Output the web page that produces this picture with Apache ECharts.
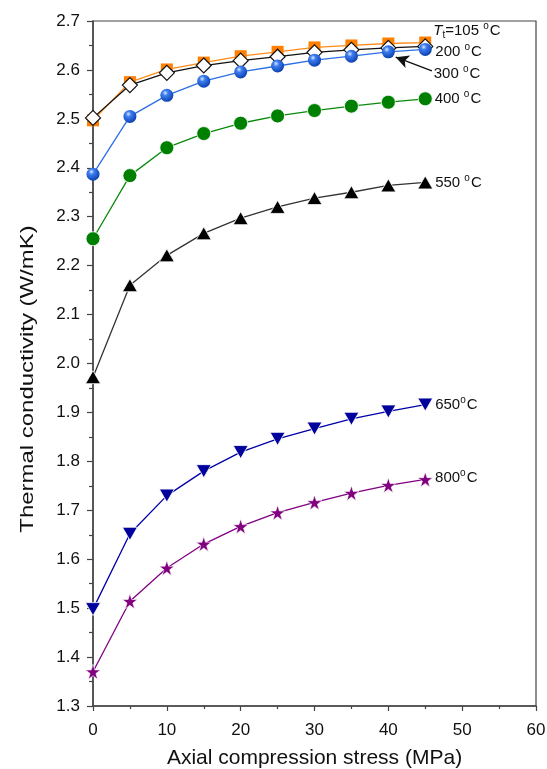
<!DOCTYPE html>
<html lang="en">
<head>
<meta charset="UTF-8">
<script src="https://cdn.jsdelivr.net/npm/echarts@6/dist/echarts.min.js"></script>
<title>Thermal conductivity vs axial stress</title>
<style>
    html, body { margin: 0; padding: 0; background: #fff; }
    #main { width: 547px; height: 769px; }
</style>
</head>
<body>
<div id="main"></div>
<script type="text/javascript">
    // axial compression stress (MPa)
    var stress = [0, 5, 10, 15, 20, 25, 30, 35, 40, 45];
    // thermal conductivity (W/mK) after each treatment temperature
    var t105 = [2.497, 2.575, 2.601, 2.615, 2.628, 2.637, 2.646, 2.650, 2.654, 2.656];
    var t200 = [2.502, 2.569, 2.594, 2.609, 2.619, 2.627, 2.636, 2.641, 2.645, 2.648];
    var t300 = [2.387, 2.505, 2.548, 2.577, 2.596, 2.608, 2.620, 2.628, 2.637, 2.642];
    var t400 = [2.255, 2.384, 2.441, 2.470, 2.491, 2.506, 2.517, 2.526, 2.534, 2.541];
    var t550 = [1.972, 2.160, 2.221, 2.266, 2.297, 2.320, 2.338, 2.350, 2.364, 2.370];
    var t650 = [1.498, 1.652, 1.730, 1.780, 1.819, 1.846, 1.867, 1.887, 1.902, 1.916];
    var t800 = [1.370, 1.514, 1.582, 1.631, 1.667, 1.695, 1.716, 1.735, 1.751, 1.763];
    var labels = ['{i|T}{sub|t}{n|=105 }{sup|o}{n|C}', '{n|200 }{sup|o}{n|C}', '{n|300 }{sup|o}{n|C}',
                  '{n|400 }{sup|o}{n|C}', '{n|550 }{sup|o}{n|C}', '{n|650}{sup|o}{n|C}', '{n|800}{sup|o}{n|C}'];

    var FONT = 'Liberation Sans, Arial, sans-serif';
    var rich = {
        n: { fontSize: 15, fontFamily: FONT, color: '#111' },
        i: { fontSize: 15, fontFamily: FONT, fontStyle: 'italic', color: '#111' },
        sub: { fontSize: 10, fontFamily: FONT, color: '#111', padding: [9, 0, 0, 0] },
        sup: { fontSize: 10, fontFamily: FONT, color: '#111', padding: [0, 1, 9, 0] }
    };

    var sphere = {
        type: 'radial', x: 0.38, y: 0.32, r: 0.7,
        colorStops: [{ offset: 0, color: '#dce8ff' }, { offset: 0.3, color: '#3d7df0' }, { offset: 1, color: '#0b3fae' }]
    };
    var star = 'path://M50,0 L61.8,35.1 L98.9,35.1 L68.9,56.8 L80.3,91.9 L50,70.2 L19.7,91.9 L31.1,56.8 L1.1,35.1 L38.2,35.1 Z';

    function pts(vals, idx, off) {
        return vals.map(function (v, k) {
            var d = { value: [stress[k], v] };
            if (k === vals.length - 1) {
                d.label = { show: true, position: 'right', distance: 2, offset: off,
                            formatter: labels[idx], rich: rich };
            }
            return d;
        });
    }

    function line(name, vals, idx, off, lineColor, symbol, size, item, extra) {
        var s = {
            name: name, type: 'line', data: pts(vals, idx, off),
            symbol: symbol, symbolSize: size, showAllSymbol: true,
            lineStyle: { color: lineColor, width: 1.3 },
            itemStyle: item, z: 2 + idx
        };
        for (var k in extra) s[k] = extra[k];
        return s;
    }

    var chart = echarts.init(document.getElementById('main'));
    chart.setOption({
        animation: false,
        grid: { left: 93, right: 11, top: 21, bottom: 63, outerBoundsMode: 'none',
                show: true, borderColor: '#444', borderWidth: 1.2 },
        // y title is drawn a bit stretched along its length, as in the figure
        graphic: [{
            type: 'text', x: 28, y: 379, rotation: Math.PI / 2, scaleX: 1.33,
            style: { text: 'Thermal conductivity (W/mK)', font: '18px ' + FONT, fill: '#111',
                     align: 'center', verticalAlign: 'middle' }
        }],
        xAxis: {
            type: 'value', min: 0, max: 60, interval: 10,
            name: 'Axial compression stress (MPa)', nameLocation: 'middle', nameGap: 42,
            nameTextStyle: { fontSize: 21, fontFamily: FONT, color: '#111' },
            axisLine: { lineStyle: { color: '#444', width: 1.5 } },
            axisTick: { show: true, length: 5, lineStyle: { color: '#444', width: 1.2 } },
            minorTick: { show: true, splitNumber: 2, length: 3, lineStyle: { color: '#444', width: 1.2 } },
            axisLabel: { fontSize: 17, fontFamily: FONT, color: '#111', margin: 16 },
            splitLine: { show: false }
        },
        yAxis: {
            type: 'value', min: 1.3, max: 2.7, interval: 0.1,
            axisLine: { show: true, lineStyle: { color: '#444', width: 1.5 } },
            axisTick: { show: true, length: 6, lineStyle: { color: '#444', width: 1.2 } },
            minorTick: { show: true, splitNumber: 2, length: 4, lineStyle: { color: '#444', width: 1.2 } },
            axisLabel: { fontSize: 17, fontFamily: FONT, color: '#111', margin: 13,
                         formatter: function (v) { return v.toFixed(1); } },
            splitLine: { show: false }
        },
        series: [
            line('105', t105, 0, [0, -12], '#ff8c1a', 'rect', 12, { color: '#ff7f00' }),
            line('200', t200, 1, [0, 5], '#111', 'diamond', 15, { color: '#fff', borderColor: '#111', borderWidth: 1.2 }),
            line('300', t300, 2, [0, 24], '#2b6fe6', 'circle', 13, { color: sphere },
                 { markLine: { silent: true, symbol: ['none', 'arrow'], symbolSize: [10, 13],
                               lineStyle: { color: '#111', width: 1.3, type: 'solid' }, label: { show: false },
                               data: [[{ coord: [45.9, 2.598] }, { coord: [41.0, 2.626] }]] } }),
            line('400', t400, 3, [0, 0], '#0a8a0a', 'circle', 14, { color: '#008000', borderColor: '#fff', borderWidth: 0.8 }),
            line('550', t550, 4, [0, 0], '#333', 'triangle', [15, 13], { color: '#000', borderColor: '#fff', borderWidth: 0.8 }),
            line('650', t650, 5, [0, 0], '#0000a8', 'triangle', [15, 13], { color: '#00009c', borderColor: '#fff', borderWidth: 0.8 },
                 { symbolRotate: 180 }),
            line('800', t800, 6, [0, -2], '#800080', star, 15, { color: '#800080', borderColor: '#fff', borderWidth: 0.6 })
        ]
    });
</script>
</body>
</html>
